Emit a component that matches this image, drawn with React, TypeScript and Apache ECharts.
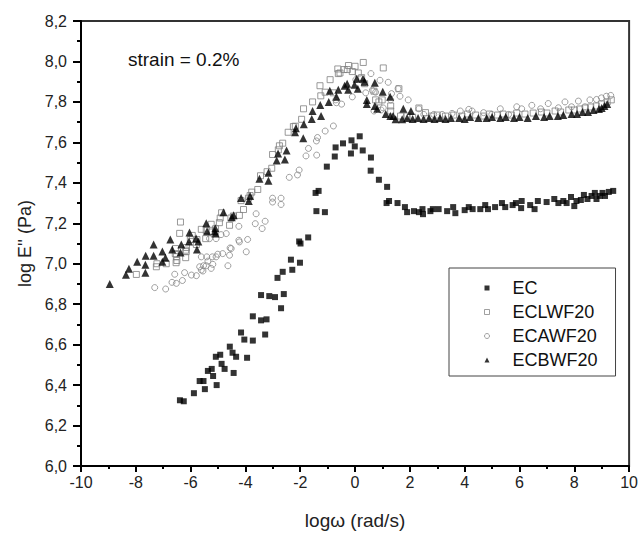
import React, { useEffect, useRef } from "react";
import * as echarts from "echarts";

const FONT = "'Liberation Sans', Arial, Helvetica, sans-serif";

const seriesNames = ["EC", "ECLWF20", "ECAWF20", "ECBWF20"];
const xTitle = "log\u03c9 (rad/s)";
const yTitle = "log E'' (Pa)";
const annotation = "strain = 0.2%";

const ecData: number[][] = [
  [-6.39, 6.325], [-6.25, 6.32], [-5.88, 6.36], [-5.67, 6.42], [-5.53, 6.42], [-5.48, 6.38],
  [-5.37, 6.47], [-5.23, 6.48], [-5.18, 6.445], [-5.05, 6.40], [-5.08, 6.54], [-4.92, 6.55],
  [-4.87, 6.505], [-4.76, 6.48], [-4.57, 6.59], [-4.47, 6.56], [-4.34, 6.54], [-4.43, 6.46],
  [-4.16, 6.66], [-4.04, 6.625], [-3.94, 6.535], [-3.73, 6.74], [-3.73, 6.62], [-3.43, 6.72],
  [-3.23, 6.725], [-3.28, 6.65], [-3.43, 6.845], [-3.13, 6.84], [-2.92, 6.835], [-2.60, 6.85],
  [-2.70, 6.78], [-2.83, 6.93], [-2.64, 6.96], [-2.29, 6.97], [-2.34, 7.02], [-2.01, 7.005],
  [-2.04, 7.11], [-1.99, 7.10], [-1.71, 7.13], [-1.41, 7.26], [-1.10, 7.255], [-1.44, 7.35],
  [-1.33, 7.36], [-1.03, 7.48], [-0.74, 7.53], [-0.71, 7.575], [-0.44, 7.595], [-0.15, 7.545],
  [-0.13, 7.61], [-0.01, 7.58], [0.17, 7.63], [0.28, 7.56], [0.58, 7.525], [0.57, 7.46],
  [0.87, 7.415], [1.17, 7.38], [1.24, 7.31], [1.15, 7.30], [1.55, 7.30], [1.82, 7.28],
  [1.90, 7.255], [2.15, 7.26], [2.33, 7.255], [2.46, 7.27], [2.48, 7.245], [2.75, 7.26],
  [2.84, 7.27], [3.05, 7.27], [3.36, 7.26], [3.58, 7.28], [3.66, 7.25], [4.0, 7.265],
  [4.15, 7.28], [4.29, 7.27], [4.57, 7.27], [4.75, 7.29], [4.85, 7.27], [5.11, 7.28],
  [5.36, 7.30], [5.48, 7.28], [5.75, 7.29], [5.87, 7.30], [6.08, 7.31], [6.06, 7.275],
  [6.39, 7.29], [6.55, 7.27], [6.67, 7.31], [6.99, 7.305], [7.27, 7.32], [7.42, 7.30],
  [7.60, 7.31], [7.72, 7.30], [7.88, 7.33], [8.0, 7.285], [8.08, 7.31], [8.24, 7.315],
  [8.35, 7.34], [8.48, 7.32], [8.63, 7.335], [8.75, 7.35], [8.81, 7.32], [8.93, 7.335],
  [9.03, 7.35], [9.12, 7.335], [9.26, 7.355], [9.42, 7.36],
];

const eclwf20Data: number[][] = [
  [-7.98, 6.947], [-7.25, 6.985], [-7.23, 7.0], [-6.89, 7.0], [-6.53, 7.005], [-6.52, 7.035],
  [-6.18, 7.03], [-6.18, 7.067], [-6.40, 7.15], [-6.56, 7.05], [-6.50, 7.016], [-6.55, 7.075],
  [-6.37, 7.206], [-6.15, 7.08], [-6.16, 7.06], [-6.01, 7.12], [-5.94, 7.14], [-5.79, 7.095],
  [-5.77, 7.12], [-5.61, 7.17], [-5.45, 7.124], [-5.43, 7.164], [-5.25, 7.157], [-5.25, 7.195],
  [-5.09, 7.173], [-4.95, 7.203], [-4.92, 7.226], [-4.87, 7.252], [-4.58, 7.19], [-4.53, 7.226],
  [-4.44, 7.236], [-4.22, 7.239], [-4.07, 7.268], [-4.16, 7.312], [-3.89, 7.324], [-3.83, 7.337],
  [-3.77, 7.354], [-3.55, 7.367], [-3.45, 7.435], [-3.21, 7.455], [-3.04, 7.472], [-3.01, 7.54],
  [-2.80, 7.563], [-2.76, 7.583], [-2.64, 7.596], [-2.44, 7.65], [-2.25, 7.678], [-2.18, 7.68],
  [-1.95, 7.714], [-1.88, 7.766], [-1.55, 7.80], [-1.25, 7.83], [-1.28, 7.88], [-1.09, 7.848],
  [-0.91, 7.91], [-0.80, 7.845], [-0.63, 7.963], [-0.61, 7.94], [-0.40, 7.96], [-0.28, 7.96],
  [-0.24, 7.98], [-0.10, 7.95], [0.0, 7.976], [-0.55, 7.943], [0.12, 7.943], [0.30, 7.995],
  [0.24, 7.92], [0.35, 7.89], [1.03, 7.968], [0.69, 7.853], [0.75, 7.81], [0.99, 7.81],
  [0.87, 7.80], [1.30, 7.78], [1.60, 7.865], [1.30, 7.755], [1.66, 7.73], [2.33, 7.77],
  [2.57, 7.747], [1.9, 7.73], [2.1, 7.725], [2.8, 7.73], [3.0, 7.735], [3.3, 7.73],
  [3.6, 7.735], [3.9, 7.73], [4.1, 7.74], [4.4, 7.735], [4.7, 7.73], [4.9, 7.74],
  [5.2, 7.735], [5.4, 7.74], [5.7, 7.735], [5.9, 7.745], [6.2, 7.74], [6.5, 7.745],
  [6.8, 7.75], [7.0, 7.745], [7.3, 7.755], [7.5, 7.75], [7.8, 7.76], [8.0, 7.76],
  [8.2, 7.765], [8.4, 7.77], [8.6, 7.775], [8.8, 7.78], [9.0, 7.79], [9.2, 7.80], [9.35, 7.81],
];

const ecawf20Data: number[][] = [
  [-7.31, 6.882], [-6.91, 6.875], [-6.68, 6.908], [-6.52, 6.903], [-6.30, 6.917], [-6.58, 6.948],
  [-6.22, 6.956], [-5.97, 6.944], [-5.79, 6.941], [-5.67, 6.985], [-5.55, 6.964], [-5.43, 6.99],
  [-5.25, 6.977], [-5.19, 6.997], [-5.37, 7.013], [-5.07, 7.034], [-4.83, 7.05], [-4.58, 7.042],
  [-4.64, 6.99], [-4.52, 7.075], [-4.22, 7.108], [-3.97, 7.059], [-3.92, 7.12], [-5.61, 6.969],
  [-5.53, 6.99], [-5.61, 7.034], [-5.41, 7.034], [-5.21, 7.034], [-5.01, 7.047], [-4.56, 7.078],
  [-4.24, 7.116], [-4.24, 7.185], [-3.64, 7.198], [-3.61, 7.247], [-3.39, 7.174], [-3.28, 7.21],
  [-5.31, 7.124], [-5.07, 7.124], [-4.89, 7.144], [-4.70, 7.149], [-3.01, 7.324], [-2.70, 7.324],
  [-2.70, 7.293], [-3.01, 7.305], [-2.40, 7.427], [-2.10, 7.439], [-2.04, 7.463], [-1.79, 7.533],
  [-1.70, 7.57], [-1.40, 7.537], [-1.41, 7.607], [-1.37, 7.624], [-1.09, 7.656], [-0.79, 7.681],
  [-0.68, 7.796], [-0.49, 7.789], [-0.70, 7.81], [-0.10, 7.825], [0.03, 7.91], [0.33, 7.894],
  [0.39, 7.845], [0.58, 7.94], [0.63, 7.858], [0.75, 7.848], [0.91, 7.907], [0.95, 7.76],
  [0.69, 7.755], [1.03, 7.77], [1.21, 7.897], [1.33, 7.841], [1.30, 7.81], [1.57, 7.866],
  [1.64, 7.828], [1.94, 7.81], [2.33, 7.766], [2.51, 7.738], [2.87, 7.738], [3.18, 7.738],
  [3.54, 7.743], [3.84, 7.755], [4.15, 7.763], [4.27, 7.755], [4.69, 7.747], [4.99, 7.738],
  [5.30, 7.766], [5.60, 7.738], [5.90, 7.776], [6.08, 7.766], [6.45, 7.783], [6.77, 7.766],
  [7.05, 7.792], [7.42, 7.771], [7.66, 7.80], [7.90, 7.776], [8.15, 7.804], [8.39, 7.776],
  [8.57, 7.81], [8.81, 7.812], [8.99, 7.82], [9.17, 7.828], [9.33, 7.832],
];

const ecbwf20Data: number[][] = [
  [-8.95, 6.90], [-8.36, 6.945], [-8.25, 6.975], [-7.95, 7.01], [-7.65, 6.955], [-7.65, 6.995],
  [-7.64, 7.04], [-7.35, 7.04], [-7.35, 7.095], [-7.03, 7.06], [-7.03, 7.01], [-6.92, 7.03],
  [-6.74, 7.12], [-6.67, 7.07], [-6.37, 7.055], [-6.34, 7.095], [-6.04, 7.155], [-6.06, 7.11],
  [-5.80, 7.125], [-5.77, 7.07], [-5.72, 7.11], [-5.40, 7.16], [-5.12, 7.16], [-5.09, 7.15],
  [-5.43, 7.20], [-5.10, 7.175], [-4.80, 7.255], [-4.50, 7.23], [-4.43, 7.24], [-4.16, 7.325],
  [-3.88, 7.31], [-3.83, 7.335], [-3.49, 7.42], [-3.16, 7.41], [-3.16, 7.45], [-2.86, 7.51],
  [-2.81, 7.545], [-2.56, 7.515], [-2.50, 7.56], [-2.19, 7.65], [-2.16, 7.67], [-1.89, 7.62],
  [-1.87, 7.69], [-1.58, 7.715], [-1.55, 7.755], [-1.27, 7.785], [-1.24, 7.73], [-0.96, 7.80],
  [-0.92, 7.855], [-0.68, 7.825], [-0.61, 7.86], [-0.38, 7.88], [-0.29, 7.89], [-0.25, 7.86],
  [-0.02, 7.885], [0.06, 7.915], [0.10, 7.865], [0.29, 7.915], [0.35, 7.90], [0.43, 7.81],
  [0.43, 7.79], [0.72, 7.895], [0.72, 7.78], [1.01, 7.85], [1.28, 7.825], [1.12, 7.74],
  [1.29, 7.73], [0.81, 7.766], [1.39, 7.73], [1.48, 7.714], [1.76, 7.766], [2.04, 7.755],
  [1.72, 7.714], [1.9, 7.72], [2.1, 7.715], [2.3, 7.72], [2.5, 7.715], [2.7, 7.72],
  [2.9, 7.715], [3.1, 7.72], [3.3, 7.715], [3.5, 7.72], [3.8, 7.72], [4.0, 7.715],
  [4.2, 7.725], [4.5, 7.72], [4.8, 7.72], [5.0, 7.725], [5.3, 7.72], [5.5, 7.725],
  [5.8, 7.72], [6.0, 7.725], [6.3, 7.72], [6.6, 7.73], [6.9, 7.725], [7.1, 7.73],
  [7.4, 7.73], [7.6, 7.735], [7.9, 7.74], [8.1, 7.74], [8.3, 7.75], [8.5, 7.75],
  [8.7, 7.76], [8.9, 7.765], [9.0, 7.77], [9.1, 7.78], [9.2, 7.79],
];

export default function App() {
  const ref = useRef<HTMLDivElement>(null);
  useEffect(() => {
    if (!ref.current) return;
    const chart = echarts.init(ref.current, null, { renderer: "svg" });
    const openStyle = (c: string) => ({ color: "rgba(255,255,255,0)", borderColor: c, borderWidth: 1 });
    chart.setOption({
      animation: false,
      backgroundColor: "#fff",
      textStyle: { fontFamily: FONT },
      grid: {
        left: 81, right: 10, top: 21, bottom: 66,
        show: true, borderColor: "#333", borderWidth: 2, backgroundColor: "transparent",
      },
      xAxis: {
        type: "value", min: -10, max: 10, interval: 2,
        name: xTitle, nameLocation: "middle", nameGap: 45,
        nameTextStyle: { fontSize: 19, color: "#222", fontFamily: FONT },
        axisLine: { show: true, onZero: false, lineStyle: { color: "#000", width: 2 } },
        axisTick: { show: true, inside: false, length: 6, lineStyle: { color: "#000", width: 2 } },
        minorTick: { show: true, splitNumber: 2, length: 3, lineStyle: { color: "#000", width: 2 } },
        splitLine: { show: false },
        axisLabel: { fontSize: 16, color: "#222", margin: 8, fontFamily: FONT },
      },
      yAxis: {
        type: "value", min: 6, max: 8.2, interval: 0.2,
        name: yTitle, nameLocation: "middle", nameGap: 47,
        nameTextStyle: { fontSize: 18, color: "#222", fontFamily: FONT },
        axisLine: { show: true, onZero: false, lineStyle: { color: "#000", width: 2 } },
        axisTick: { show: true, inside: false, length: 8, lineStyle: { color: "#000", width: 2 } },
        minorTick: { show: true, splitNumber: 2, length: 4, lineStyle: { color: "#000", width: 2 } },
        splitLine: { show: false },
        axisLabel: {
          fontSize: 16, color: "#222", margin: 14, fontFamily: FONT,
          formatter: (v: number) => v.toFixed(1).replace(".", ","),
        },
      },
      legend: {
        orient: "vertical", left: 449, top: 268,
        itemWidth: 5, itemHeight: 5, itemGap: 0,
        padding: [8, 18, 4, 35],
        borderColor: "#444", borderWidth: 1,
        textStyle: { fontSize: 18, lineHeight: 24, color: "#111", fontFamily: FONT, padding: [0, 0, 0, 18] },
        data: [
          { name: seriesNames[0] },
          { name: seriesNames[1], itemStyle: { borderWidth: 1, borderColor: "#888" } },
          { name: seriesNames[2], itemStyle: { borderWidth: 1, borderColor: "#888" } },
          { name: seriesNames[3] },
        ],
      },
      graphic: [
        {
          type: "text", left: 128, top: 50,
          style: { text: annotation, fontSize: 19, fill: "#111", fontFamily: FONT },
        },
      ],
      series: [
        {
          name: seriesNames[0], type: "scatter", data: ecData,
          symbol: "rect", symbolSize: 6, itemStyle: { color: "#000" },
        },
        {
          name: seriesNames[1], type: "scatter", data: eclwf20Data,
          symbol: "rect", symbolSize: 6, itemStyle: openStyle("#808080"),
        },
        {
          name: seriesNames[2], type: "scatter", data: ecawf20Data,
          symbol: "circle", symbolSize: 6, itemStyle: openStyle("#888"),
        },
        {
          name: seriesNames[3], type: "scatter", data: ecbwf20Data,
          symbol: "triangle", symbolSize: 8, itemStyle: { color: "#000" },
        },
      ],
    });
    return () => chart.dispose();
  }, []);
  return (
    <div
      ref={ref}
      style={{ position: "fixed", left: 0, top: 0, width: 641, height: 535, background: "#fff" }}
    />
  );
}
